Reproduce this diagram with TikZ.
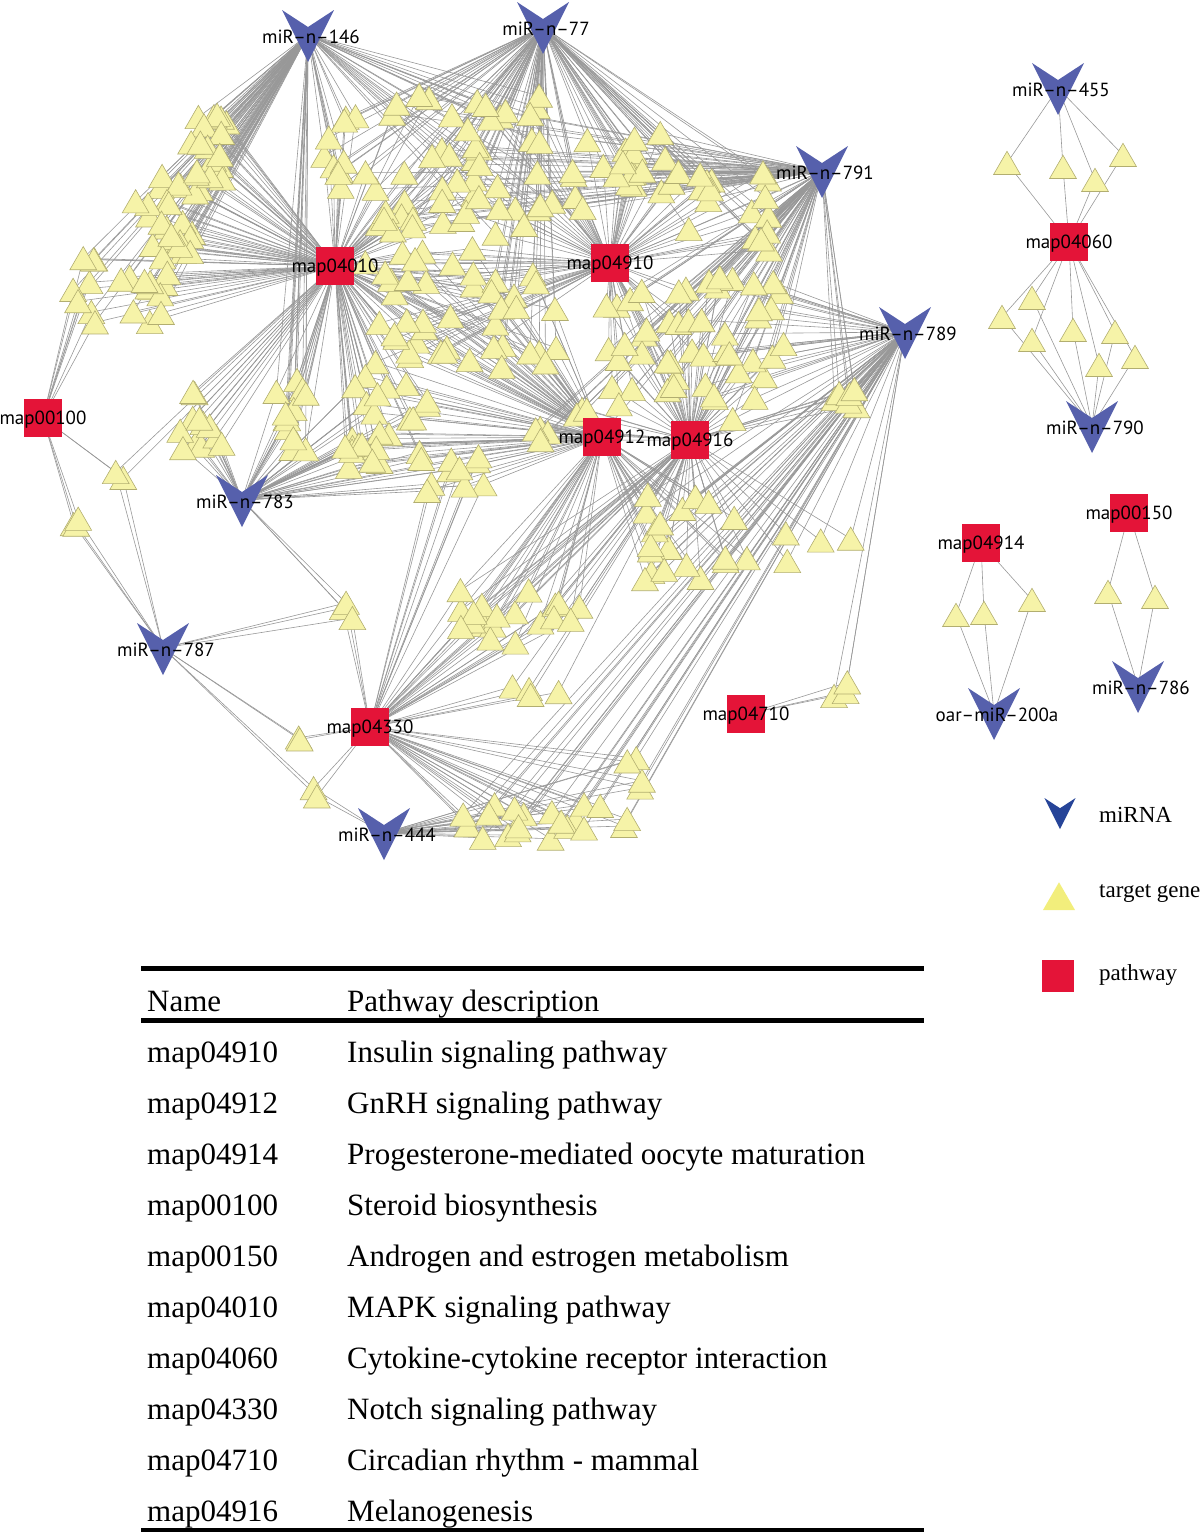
\documentclass[tikz,border=0pt]{standalone}
\usepackage{fontspec}
\setmainfont{Liberation Serif}
\newfontfamily\netfont{PT Sans}
\usetikzlibrary{shapes.geometric}

\definecolor{mirblue}{RGB}{86,96,172}
\definecolor{legblue}{RGB}{38,68,152}
\definecolor{pathred}{RGB}{228,20,56}
\definecolor{genefill}{RGB}{246,243,168}
\definecolor{geneline}{RGB}{178,174,112}
\definecolor{legyellow}{RGB}{242,238,124}
\definecolor{linkgray}{RGB}{152,152,152}

\tikzset{
  gene/.style={regular polygon, regular polygon sides=3, minimum size=31pt, inner sep=0pt,
    yshift=-3.75pt, fill=genefill, draw=geneline, line width=0.6pt},
  pathway/.style={rectangle, minimum size=38pt, inner sep=0pt, fill=pathred},
  netlabel/.style={font=\netfont\fontsize{19}{19}\selectfont, inner sep=0pt},
  link/.style={linkgray, line width=0.6pt},
  chevron/.pic={\fill[pic actions] (-26,-25) -- (0,-8) -- (26,-25) -- (0,27) -- cycle;},
  tabtext/.style={font=\fontsize{31}{31}\selectfont, anchor=base west, inner sep=0pt},
  legtext/.style={font=\fontsize{23}{23}\selectfont, anchor=west, inner sep=0pt}
}

% gene clusters: centre x/centre y/spread x/spread y/count/hubs
\def\clusters{
  212/122/22/14/7/{m146,p04010},
  188/168/35/30/16/{m146,p04010},
  160/228/35/35/20/{m146,p04010},
  145/300/25/30/12/{m146,p04010},
  85/292/12/35/8/{p00100,p04010,m146},
  340/155/16/40/10/{m146,p04010,m77},
  425/165/60/70/30/{m77,p04010,m791},
  510/165/45/70/22/{m77,p04910,m146},
  420/305/55/60/28/{p04010,p04910,p04912},
  530/320/40/55/16/{p04010,p04912,m77},
  625/170/55/40/22/{m77,m791,p04910},
  725/215/45/45/16/{m791,p04910,m77},
  650/345/45/60/24/{m791,p04910,p04916},
  745/350/45/75/26/{m791,p04916,m789},
  560/420/45/25/8/{p04912,p04916,m791},
  200/417/22/32/12/{m783,p04010},
  290/420/18/40/12/{m783,p04010,m146},
  385/420/45/50/26/{p04010,p04912,m783},
  455/478/30/22/9/{p04912,m783,p04330},
  690/535/60/45/20/{p04916,p04912,m789},
  845/398/12/10/6/{m789,m791,p04916},
  820/540/35/25/4/{m789,p04916},
  525/620/75/30/20/{p04330,p04912,p04916},
  550/690/40/10/4/{p04330,p04916},
  545/822/85/18/20/{m444,p04330,m789},
  836/692/13/13/3/{p04710,m789},
  125/474/16/4/2/{p00100,m787,p04010},
  73/530/8/12/3/{p00100,m787},
  345/610/12/17/3/{m787,p04330,m783},
  298/747/2/12/2/{m787,p04330},
  314/793/6/8/2/{m787,m444,p04330},
  632/780/12/28/4/{m789,p04330,m444}}

\begin{document}
\begin{tikzpicture}[x=1pt, y=-1pt]
\useasboundingbox (0,0) rectangle (1200,1535);

% hub positions
\foreach \n/\x/\y in {m146/308/35, m77/543/27, m791/822/171, m789/905/332, m783/242/500,
  m787/163/648, m444/384/833, m455/1058/88, m790/1092/426, m200a/994/713, m786/1138/686,
  p04010/335/266, p04910/610/263, p04912/602/437, p04916/690/440, p00100/43/418,
  p04330/370/727, p04710/746/714, p04060/1069/242, p04914/981/543, p00150/1129/513}
  \coordinate (\n) at (\x,\y);

% links of the big network
\pgfmathsetseed{11}
\foreach \cx/\cy/\rx/\ry/\num/\hubs [count=\c] in \clusters {
  \foreach \k in {1,...,\num}{
    \pgfmathsetmacro\gx{\cx+\rx*rand}
    \pgfmathsetmacro\gy{\cy+\ry*rand}
    \coordinate (g\c-\k) at (\gx,\gy);
    \foreach \h in \hubs \draw[link] (\h) -- (g\c-\k);
  }
}

% the small networks on the right
\foreach \n/\x/\y in {a1/1007/163, a2/1063/167, a3/1095/180, a4/1123/155,
  b1/1002/317, b2/1032/298, b3/1032/340, b4/1073/330, b5/1115/332, b6/1099/365, b7/1135/357,
  c1/956/615, c2/984/613, c3/1032/600, d1/1108/592, d2/1155/597}
  \coordinate (\n) at (\x,\y);
\foreach \g in {a1,a2,a3,a4} \draw[link] (m455) -- (\g) -- (p04060);
\foreach \g in {b1,b2,b3,b4,b5,b6,b7} \draw[link] (p04060) -- (\g) -- (m790);
\foreach \g in {c1,c2,c3} \draw[link] (p04914) -- (\g) -- (m200a);
\foreach \g in {d1,d2} \draw[link] (p00150) -- (\g) -- (m786);

% target genes
\foreach \cx/\cy/\rx/\ry/\num/\hubs [count=\c] in \clusters {
  \foreach \k in {1,...,\num} \node[gene] (t\c-\k) at (g\c-\k) {};
}
\foreach \g in {a1,a2,a3,a4,b1,b2,b3,b4,b5,b6,b7,c1,c2,c3,d1,d2}
  \node[gene] (t\g) at (\g) {};

% hubs on top
\foreach \n/\t in {m146/miR–n–146, m77/miR–n–77, m791/miR–n–791, m789/miR–n–789,
  m783/miR–n–783, m787/miR–n–787, m444/miR–n–444, m455/miR–n–455, m790/miR–n–790,
  m200a/oar–miR–200a, m786/miR–n–786}{
  \pic[fill=mirblue] at (\n) {chevron};
  \node[netlabel] (\n-l) at ([xshift=3pt,yshift=-2pt]\n) {\t};
}
\foreach \n/\t in {p04010/map04010, p04910/map04910, p04912/map04912, p04916/map04916,
  p00100/map00100, p04330/map04330, p04710/map04710, p04060/map04060,
  p04914/map04914, p00150/map00150}{
  \node[pathway] (\n-sq) at (\n) {};
  \node[netlabel] (\n-l) at ([yshift=-2pt]\n) {\t};
}

% legend
\pic[fill=legblue, scale=0.6] at (1060,813) {chevron};
\node[legtext] (lmir) at (1099,815) {miRNA};
\node[gene, minimum size=37pt, yshift=-1pt, fill=legyellow, draw=none] (lgene) at (1059,896) {};
\node[legtext] (ltarget) at (1099,893) {target gene};
\node[pathway, minimum size=32pt] (lpath) at (1058,976) {};
\node[legtext] (lpw) at (1099,975) {pathway};

% table
\draw[line width=5pt] (141,968) -- (924,968);
\draw[line width=5pt] (141,1020) -- (924,1020);
\draw[line width=4pt] (141,1530) -- (924,1530);
\node[tabtext] (hname) at (147,1011) {Name};
\node[tabtext] (hdesc) at (347,1011) {Pathway description};
\foreach \nm/\ds [count=\i] in {map04910/Insulin signaling pathway, map04912/GnRH signaling pathway,
  map04914/Progesterone-mediated oocyte maturation, map00100/Steroid biosynthesis,
  map00150/Androgen and estrogen metabolism, map04010/MAPK signaling pathway,
  map04060/Cytokine-cytokine receptor interaction, map04330/Notch signaling pathway,
  map04710/Circadian rhythm - mammal, map04916/Melanogenesis}{
  \node[tabtext] (name\i) at (147,1011+51*\i) {\nm};
  \node[tabtext] (desc\i) at (347,1011+51*\i) {\ds};
}
\end{tikzpicture}
\end{document}
